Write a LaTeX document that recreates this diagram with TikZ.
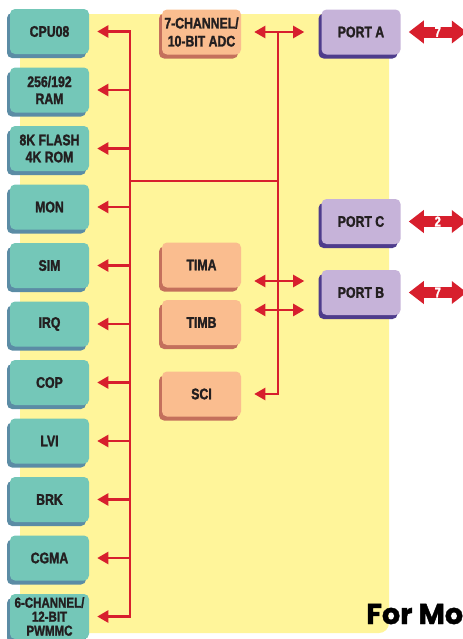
\documentclass[tikz,border=0pt]{standalone}
\usepackage{fontspec}
\newfontfamily\boxfont{Liberation Sans Bold}[FakeStretch=0.8, FakeBold=1.6]
\newfontfamily\headfont{Poppins}[FakeBold=1.5]
\usetikzlibrary{arrows.meta,shadows}

\definecolor{bgYellow}{HTML}{FFF59A}
\definecolor{tealFace}{HTML}{74C7B8}
\definecolor{tealShade}{HTML}{5B8CA5}
\definecolor{peachFace}{HTML}{FABD8F}
\definecolor{peachShade}{HTML}{C4705C}
\definecolor{lilacFace}{HTML}{C6B3D9}
\definecolor{lilacShade}{HTML}{4E3C8C}
\definecolor{busRed}{HTML}{D71F2D}
\definecolor{inkGrey}{HTML}{231F20}

\tikzstyle{blockNode} = [rectangle, rounded corners=3.75pt, minimum width=59.25pt, minimum height=33.75pt, inner sep=0pt, align=center, text=inkGrey, font=\boxfont\fontsize{11.5}{12.75}\selectfont]
\tikzstyle{tealNode} = [blockNode, fill=tealFace, drop shadow={shadow xshift=-2.25pt, shadow yshift=-3pt, opacity=1, fill=tealShade}]
\tikzstyle{peachNode} = [blockNode, fill=peachFace, drop shadow={shadow xshift=-2.25pt, shadow yshift=-3pt, opacity=1, fill=peachShade}]
\tikzstyle{lilacNode} = [blockNode, fill=lilacFace, drop shadow={shadow xshift=-2.25pt, shadow yshift=-3pt, opacity=1, fill=lilacShade}]
\tikzstyle{busLine} = [busRed, line width=1.7pt, line cap=rect]
\tikzstyle{arrow} = [busRed, line width=1.7pt, -{Triangle[length=8.25pt,width=9pt]}]
\tikzstyle{dblArrow} = [busRed, line width=1.7pt, {Triangle[length=8.25pt,width=9pt]}-{Triangle[length=8.25pt,width=9pt]}]
\tikzstyle{portArrow} = [busRed, line width=8.25pt, {Triangle[length=11.25pt,width=16.5pt]}-{Triangle[length=11.25pt,width=16.5pt]}]
\tikzstyle{portLabel} = [inner sep=0pt, text=white, font=\boxfont\fontsize{10.5}{10.5}\selectfont]

\begin{document}
\begin{tikzpicture}[x=0.75pt, y=-0.75pt, node distance=43.875pt]
    \useasboundingbox (0,0) rectangle (463,639);
    \clip (0,0) rectangle (463,639);
    \fill [bgYellow, rounded corners=7.5pt] (20,14) rectangle (389,633);

    % left column
    \node (cpu)[tealNode] at (49.5,31.5) {CPU08};
    \node (ram)[tealNode, below of=cpu] {256/192\\RAM};
    \node (flash)[tealNode, below of=ram] {8K FLASH\\4K ROM};
    \node (mon)[tealNode, below of=flash] {MON};
    \node (sim)[tealNode, below of=mon] {SIM};
    \node (irq)[tealNode, below of=sim] {IRQ};
    \node (cop)[tealNode, below of=irq] {COP};
    \node (lvi)[tealNode, below of=cop] {LVI};
    \node (brk)[tealNode, below of=lvi] {BRK};
    \node (cgma)[tealNode, below of=brk] {CGMA};
    \node (pwmmc)[tealNode, below of=cgma, font=\boxfont\fontsize{10.8}{10.5}\selectfont] {6-CHANNEL/\\12-BIT\\PWMMC};

    % middle column
    \node (adc)[peachNode, font=\boxfont\fontsize{11.5}{13.5}\selectfont] at (201.5,32) {7-CHANNEL/\\10-BIT ADC};
    \node (tima)[peachNode] at (201.5,265) {TIMA};
    \node (timb)[peachNode, below of=tima, node distance=43.125pt] {TIMB};
    \node (sci)[peachNode] at (201.5,394) {SCI};

    % ports
    \node (port_a)[lilacNode] at (361,32) {PORT A};
    \node (port_c)[lilacNode] at (361,221.5) {PORT C};
    \node (port_b)[lilacNode] at (361,292.5) {PORT B};

    \coordinate (bus_left) at (130,181);
    \coordinate (bus_right) at (278,181);
    \draw [busLine] (cpu -| bus_left) -- (pwmmc -| bus_left);
    \draw [busLine] (adc -| bus_right) -- (sci -| bus_right);
    \draw [busLine] (bus_left) -- (bus_right);

    \draw [arrow, shorten >=6pt] (cpu -| bus_left) -- (cpu.east);
    \draw [arrow, shorten >=6pt] (ram -| bus_left) -- (ram.east);
    \draw [arrow, shorten >=6pt] (flash -| bus_left) -- (flash.east);
    \draw [arrow, shorten >=6pt] (mon -| bus_left) -- (mon.east);
    \draw [arrow, shorten >=6pt] (sim -| bus_left) -- (sim.east);
    \draw [arrow, shorten >=6pt] (irq -| bus_left) -- (irq.east);
    \draw [arrow, shorten >=6pt] (cop -| bus_left) -- (cop.east);
    \draw [arrow, shorten >=6pt] (lvi -| bus_left) -- (lvi.east);
    \draw [arrow, shorten >=6pt] (brk -| bus_left) -- (brk.east);
    \draw [arrow, shorten >=6pt] (cgma -| bus_left) -- (cgma.east);
    \draw [arrow, shorten >=6pt] (pwmmc -| bus_left) -- (pwmmc.east);

    \draw [dblArrow, shorten <=9.75pt, shorten >=12.75pt] (adc.east) -- (port_a.west);
    \draw [dblArrow, shorten <=9.75pt, shorten >=12.75pt] ([yshift=-12pt]tima.east) -- ([yshift=-12pt]tima.east -| port_b.west);
    \draw [dblArrow, shorten <=9.75pt, shorten >=12.75pt] ([yshift=9.4pt]timb.east) -- ([yshift=9.4pt]timb.east -| port_b.west);
    \draw [arrow, shorten >=9.75pt] (sci -| bus_right) -- (sci.east);

    \draw [portArrow] ([xshift=6pt]port_a.east) -- ([xshift=49.5pt]port_a.east) node[midway, portLabel]{7};
    \draw [portArrow] ([xshift=6pt]port_c.east) -- ([xshift=49.5pt]port_c.east) node[midway, portLabel]{2};
    \draw [portArrow] ([xshift=6pt]port_b.east) -- ([xshift=49.5pt]port_b.east) node[midway, portLabel]{7};

    \node (more)[anchor=base west, inner sep=0pt, font=\headfont\bfseries\fontsize{21.5}{21.5}\selectfont] at (366,624) {For Mo};
\end{tikzpicture}
\end{document}
